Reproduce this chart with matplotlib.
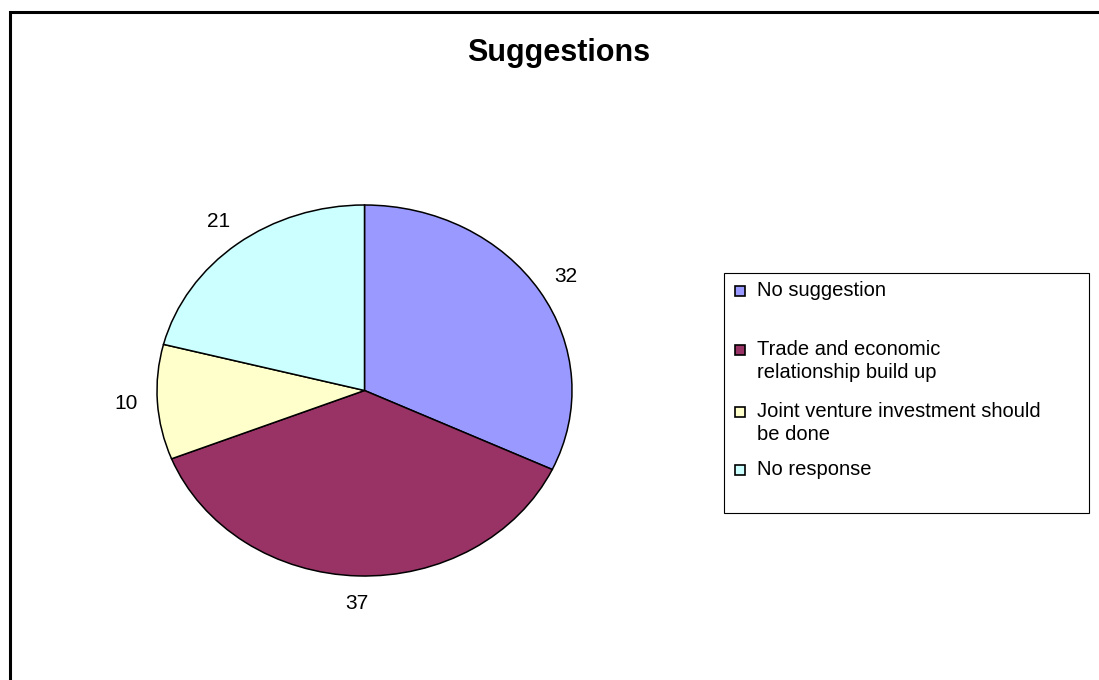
import matplotlib.pyplot as plt
import matplotlib.patches as mpatches
import numpy as np

plt.rcParams['font.family'] = ['Liberation Sans', 'DejaVu Sans']

categories = ['No suggestion', 'Trade and economic\nrelationship build up',
              'Joint venture investment should\nbe done', 'No response']
values = [32, 37, 10, 21]
colors = ['#9999FF', '#993366', '#FFFFCC', '#CCFFFF']

W, H = 1099, 680
fig = plt.figure(figsize=(W / 100, H / 100), dpi=100)


def fx(x):
    return x / W


def fy(y):
    return 1 - y / H


# outer chart border (runs off the right/bottom of the image)
fig.patches.append(mpatches.Rectangle((fx(10), fy(1000)), fx(1200), fy(12) - fy(1000),
                                      transform=fig.transFigure, fill=False,
                                      edgecolor='black', linewidth=2.2))

# pie is slightly elliptical, so let the axes stretch it
ax = fig.add_axes([fx(157), fy(576), fx(572) - fx(157), fy(205) - fy(576)])
wedges, _ = ax.pie(values, colors=colors, startangle=90, counterclock=False,
                   wedgeprops=dict(edgecolor='black', linewidth=1.1))
ax.set_aspect('auto')
ax.set_xlim(-1, 1)
ax.set_ylim(-1, 1)
ax.axis('off')

for w, v in zip(wedges, values):
    mid = np.deg2rad((w.theta1 + w.theta2) / 2)
    ax.text(1.15 * np.cos(mid), 1.15 * np.sin(mid), str(v), ha='center', va='center',
            fontsize=15, clip_on=False)

fig.text(fx(559), fy(53), 'Suggestions', ha='center', va='center',
         fontsize=22, fontweight='bold')

# legend drawn by hand so the marker sits on the first text line
fig.patches.append(mpatches.Rectangle((fx(724), fy(513)), fx(1089) - fx(724), fy(273) - fy(513),
                                      transform=fig.transFigure, fill=False,
                                      edgecolor='black', linewidth=0.8))
row_y = [291, 350, 412, 470]
for label, c, y in zip(categories, colors, row_y):
    fig.patches.append(mpatches.Rectangle((fx(735), fy(y + 5)), fx(10), fy(y - 5) - fy(y + 5),
                                          transform=fig.transFigure, facecolor=c,
                                          edgecolor='black', linewidth=1.2))
    fig.text(fx(757), fy(y - 10), label, ha='left', va='top', fontsize=14.5,
             linespacing=1.3)

fig.savefig('out.png', dpi=100, facecolor='white')
